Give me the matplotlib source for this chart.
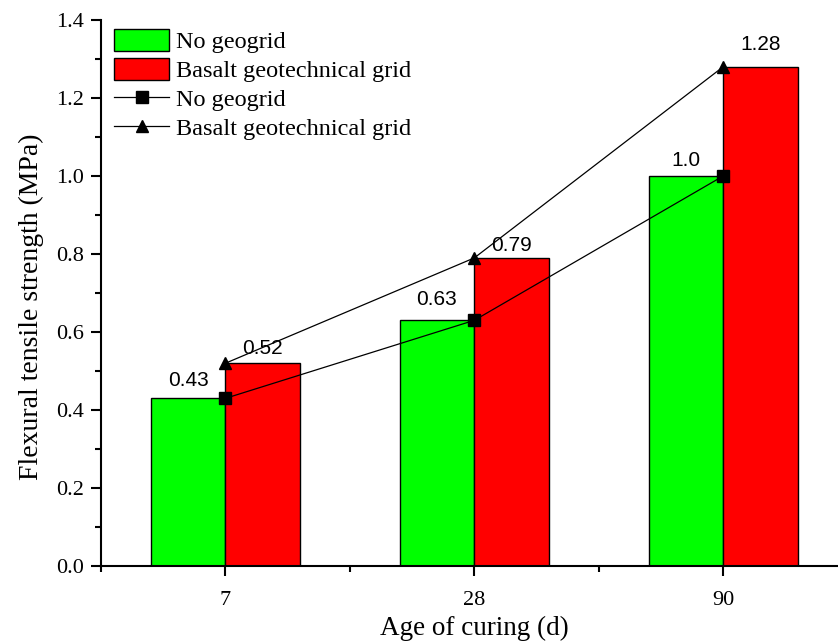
import numpy as np
import matplotlib
matplotlib.use('Agg')
import matplotlib.pyplot as plt
from matplotlib.ticker import MultipleLocator, FixedLocator, FormatStrFormatter

# Data
ages = ['7', '28', '90']
no_geogrid = [0.43, 0.63, 1.0]
basalt_grid = [0.52, 0.79, 1.28]
no_geogrid_labels = ['0.43', '0.63', '1.0']
basalt_grid_labels = ['0.52', '0.79', '1.28']

plt.rcParams['font.family'] = ['Liberation Serif', 'DejaVu Serif']

fig = plt.figure(figsize=(8.38, 6.44), dpi=100)
ax = fig.add_axes([0.1205, 0.121, 0.891, 0.848])

x = np.arange(1, len(ages) + 1)
w = 0.3

# Bars
b1 = ax.bar(x - w / 2, no_geogrid, width=w, color='#00ff00', edgecolor='black',
            linewidth=1, label='No geogrid', zorder=2)
b2 = ax.bar(x + w / 2, basalt_grid, width=w, color='#ff0000', edgecolor='black',
            linewidth=1, label='Basalt geotechnical grid', zorder=2)

# Lines with markers
l1, = ax.plot(x, no_geogrid, color='black', linewidth=0.9, marker='s', markersize=9,
              label='No geogrid', zorder=3)
l2, = ax.plot(x, basalt_grid, color='black', linewidth=0.9, marker='^', markersize=9,
              label='Basalt geotechnical grid', zorder=3)

# Value labels (offsets in points, labels were placed a bit unevenly)
green_off = [6, 8, 4]
red_off = [4, 2, 9]
for xi, v, s, o in zip(x, no_geogrid, no_geogrid_labels, green_off):
    ax.annotate(s, (xi - w / 2, v), xytext=(0, o), textcoords='offset points',
                ha='center', va='bottom', fontsize=15, family='Liberation Sans', zorder=4)
for xi, v, s, o in zip(x, basalt_grid, basalt_grid_labels, red_off):
    ax.annotate(s, (xi + w / 2, v), xytext=(0, o), textcoords='offset points',
                ha='center', va='bottom', fontsize=15, family='Liberation Sans', zorder=4)

# Axes
ax.set_xlim(0.5, 3.5)
ax.set_ylim(0, 1.4)
ax.set_xticks(x)
ax.set_xticklabels(ages)
ax.xaxis.set_minor_locator(FixedLocator([0.5, 1.5, 2.5]))
ax.yaxis.set_major_locator(MultipleLocator(0.2))
ax.yaxis.set_minor_locator(MultipleLocator(0.1))
ax.yaxis.set_major_formatter(FormatStrFormatter('%.1f'))

ax.spines['top'].set_visible(False)
ax.spines['right'].set_visible(False)
ax.spines['left'].set_linewidth(1.5)
ax.spines['bottom'].set_linewidth(1.5)
ax.tick_params(which='major', direction='out', length=7, width=1.5, labelsize=16, pad=5)
ax.tick_params(which='minor', direction='out', length=4, width=1.5)
ax.tick_params(axis='x', which='major', pad=11)

ax.set_xlabel('Age of curing (d)', fontsize=19.5, labelpad=4)
ax.set_ylabel('Flexural tensile strength (MPa)', fontsize=20, labelpad=9)
ax.yaxis.label.set_y(0.475)

ax.legend([b1, b2, l1, l2],
          ['No geogrid', 'Basalt geotechnical grid', 'No geogrid', 'Basalt geotechnical grid'],
          loc='upper left', bbox_to_anchor=(-0.005, 1.015), frameon=False,
          fontsize=17.5, handlelength=2.25, handleheight=1.0,
          labelspacing=0.2, handletextpad=0.3, borderaxespad=0.3)

fig.savefig('out.png', dpi=100)
